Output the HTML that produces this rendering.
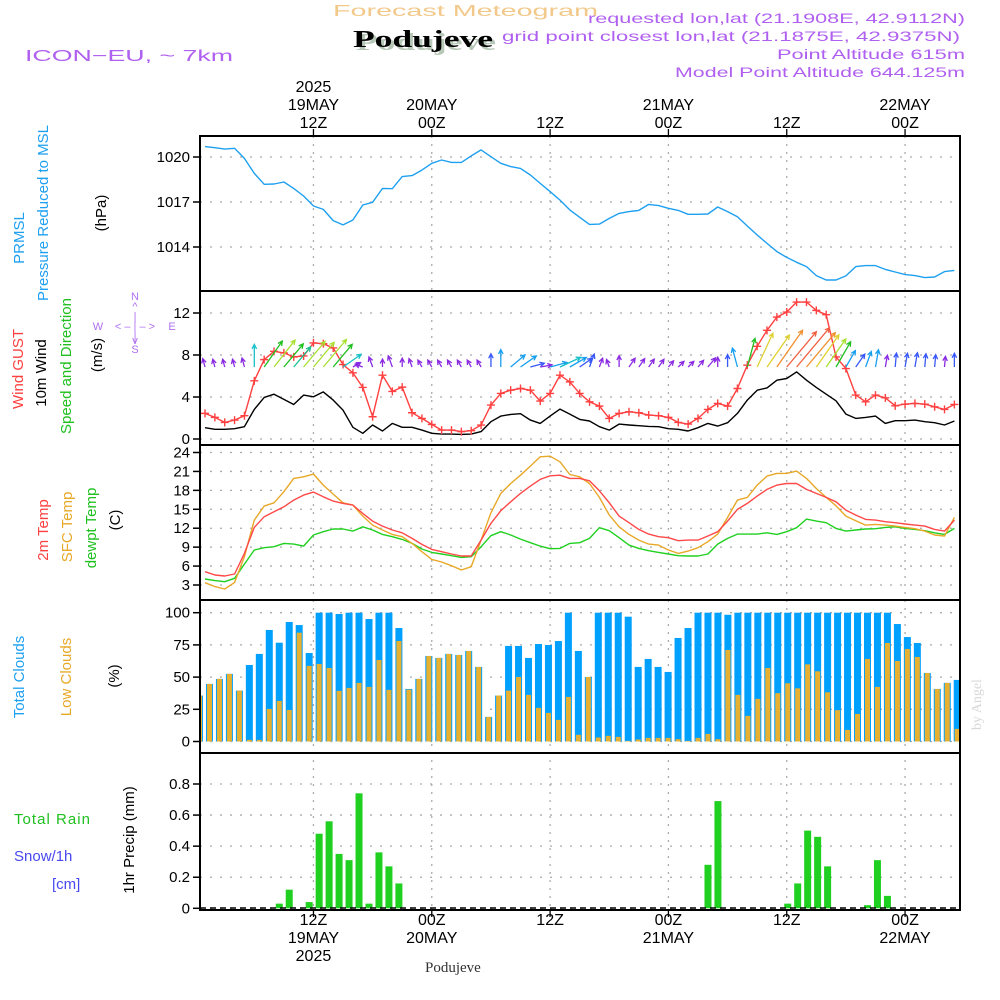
<!DOCTYPE html>
<html><head><meta charset="utf-8"><style>
html,body{margin:0;padding:0;background:#fff;}
svg{display:block;font-family:"Liberation Sans",sans-serif;}
</style></head><body>
<svg id="chart" width="1000" height="1000" viewBox="0 0 1000 1000" xmlns="http://www.w3.org/2000/svg">
<rect x="0" y="0" width="1000" height="1000" fill="#fff"/>
<text x="333" y="16" font-size="16" fill="#f2c98a" textLength="265" lengthAdjust="spacingAndGlyphs">Forecast Meteogram</text>
<text x="356" y="50" font-size="24" font-weight="bold" font-family="Liberation Serif,serif" fill="#b8c8b8" textLength="140" lengthAdjust="spacingAndGlyphs">Podujeve</text>
<text x="353" y="47" font-size="24" font-weight="bold" font-family="Liberation Serif,serif" fill="#000" textLength="140" lengthAdjust="spacingAndGlyphs">Podujeve</text>
<text x="25" y="61" font-size="16" fill="#b060f0" textLength="208" lengthAdjust="spacingAndGlyphs">ICON−EU, ~ 7km</text>
<g fill="#b060f0" font-size="14" text-anchor="end">
<text x="965" y="23" textLength="377" lengthAdjust="spacingAndGlyphs">requested lon,lat (21.1908E, 42.9112N)</text>
<text x="960" y="41" textLength="458" lengthAdjust="spacingAndGlyphs">grid point closest lon,lat (21.1875E, 42.9375N)</text>
<text x="965" y="59" textLength="188" lengthAdjust="spacingAndGlyphs">Point Altitude 615m</text>
<text x="965" y="77" textLength="290" lengthAdjust="spacingAndGlyphs">Model Point Altitude 644.125m</text>
</g>
<g id="grid"></g>
<g id="marks"></g>
<g id="frames"></g>
<g id="labels" font-size="15" fill="#000"></g>
<g font-size="15">
<text transform="translate(24,238) rotate(-90)" fill="#1ea0f0" text-anchor="middle">PRMSL</text>
<text transform="translate(48,213) rotate(-90)" fill="#1ea0f0" text-anchor="middle">Pressure Reduced to MSL</text>
<text transform="translate(106,213) rotate(-90)" fill="#000" text-anchor="middle">(hPa)</text>
<text transform="translate(23,369) rotate(-90)" fill="#ff4040" text-anchor="middle">Wind GUST</text>
<text transform="translate(46,373) rotate(-90)" fill="#000" text-anchor="middle">10m Wind</text>
<text transform="translate(71,366) rotate(-90)" fill="#20c020" text-anchor="middle">Speed and Direction</text>
<text transform="translate(102,355) rotate(-90)" fill="#000" text-anchor="middle">(m/s)</text>
<g fill="#b070f0" font-size="11" text-anchor="middle">
<text x="135" y="300">N</text><text x="135" y="310">^</text><text x="135" y="353">S</text><text x="135" y="344">v</text>
<text x="98" y="330">W</text><text x="172" y="330">E</text>
<text x="135" y="330">&lt; – | – &gt;</text><text x="135" y="320">|</text><text x="135" y="340">|</text>
</g>
<text transform="translate(48,530) rotate(-90)" fill="#ff4040" text-anchor="middle">2m Temp</text>
<text transform="translate(72,527) rotate(-90)" fill="#e8a828" text-anchor="middle">SFC Temp</text>
<text transform="translate(96,528) rotate(-90)" fill="#20c020" text-anchor="middle">dewpt Temp</text>
<text transform="translate(120,520) rotate(-90)" fill="#000" text-anchor="middle">(C)</text>
<text transform="translate(24,677) rotate(-90)" fill="#1ea0f0" text-anchor="middle">Total Clouds</text>
<text transform="translate(71,677) rotate(-90)" fill="#e8a828" text-anchor="middle">Low Clouds</text>
<text transform="translate(119,676) rotate(-90)" fill="#000" text-anchor="middle">(%)</text>
<text transform="translate(134,840) rotate(-90)" fill="#000" text-anchor="middle">1hr Precip (mm)</text>
<text x="14" y="824" fill="#20c020" textLength="76" lengthAdjust="spacing">Total   Rain</text>
<text x="14" y="861" fill="#4848f0">Snow/1h</text>
<text x="52" y="889" fill="#4848f0">[cm]</text>
<text transform="translate(981,730) rotate(-90)" fill="#d8d8d8" font-family="Liberation Serif,serif" font-size="14">by Angel</text>
<text x="425" y="972" fill="#333" font-family="Liberation Serif,serif" font-size="15">Podujeve</text>
</g>
</svg>
<script>
// ---------- data (hourly, 01Z 19 May .. 05Z 22 May) ----------
const pressure = [1020.69,1020.62,1020.53,1020.58,1019.91,1018.91,1018.18,1018.2,1018.33,1017.91,1017.4,1016.73,1016.51,1015.76,1015.47,1015.8,1016.8,1016.98,1017.91,1017.89,1018.69,1018.76,1019.13,1019.58,1019.8,1019.64,1019.64,1020.07,1020.47,1020.02,1019.58,1019.36,1019.24,1018.8,1018.24,1017.69,1017.13,1016.47,1015.98,
1015.51,1015.53,1015.91,1016.24,1016.36,1016.44,1016.84,1016.76,1016.58,1016.44,1016.18,1016.18,1016.2,1016.67,1016.36,1016.02,1015.4,1014.8,1014.24,1013.69,1013.31,1012.98,1012.69,1012.09,1011.8,1011.8,1012.07,1012.69,1012.76,1012.76,1012.51,1012.33,1012.16,1012.09,1011.96,1012.0,1012.36,1012.44];
const windGust = [2.44,2.06,1.58,1.80,2.22,5.54,7.56,8.35,8.20,7.82,7.91,9.15,9.08,8.67,7.09,6.30,4.91,2.12,6.08,4.53,4.94,2.50,1.96,1.39,0.85,0.85,0.70,0.79,1.33,3.23,4.34,4.65,4.81,4.65,3.61,4.34,6.08,5.44,4.34,
3.54,3.13,1.96,2.44,2.59,2.50,2.28,2.22,2.06,1.58,1.42,1.96,2.82,3.39,3.13,4.81,7.03,8.83,10.35,11.61,12.09,13.04,13.04,12.25,11.84,7.82,6.71,4.18,3.54,4.18,3.92,3.16,3.32,3.39,3.32,3.07,2.82,3.29];
const wind10m = [1.08,0.92,0.92,0.98,1.17,2.82,3.96,4.27,3.77,3.29,4.18,4.02,4.49,3.70,2.75,1.11,0.54,1.33,0.76,1.49,1.11,1.11,0.85,0.54,0.47,0.47,0.44,0.47,0.70,1.65,2.18,2.34,2.41,1.80,1.49,2.18,2.85,2.37,1.87,
1.71,1.17,0.85,1.42,1.33,1.27,1.20,1.17,0.98,0.92,0.76,1.08,1.49,1.23,1.55,2.44,3.70,4.65,4.87,5.60,5.76,6.39,5.60,4.91,4.27,3.64,2.37,1.96,2.06,2.18,1.49,1.74,1.74,1.80,1.65,1.55,1.33,1.71];
const windDir = [-15,-15,-15,-15,-15,0,35,38,40,40,40,40,40,40,55,60,-70,-20,0,-20,0,-20,-30,-30,-30,-30,-30,-30,-30,0,0,50,55,75,80,75,65,60,55,
20,20,-20,0,35,35,35,35,40,45,45,40,40,0,0,-15,15,25,35,35,40,40,40,35,35,30,30,35,20,10,10,5,10,10,5,5,5,0];
const temp2m = [5.11,4.58,4.42,4.74,8.01,12.13,13.82,14.61,15.40,16.46,17.25,17.72,16.98,16.30,15.93,15.66,14.35,13.13,12.34,11.71,11.28,10.39,9.44,8.65,8.28,7.91,7.59,7.59,10.12,12.76,14.77,16.19,17.51,18.67,19.73,20.31,20.41,19.89,19.89,
19.52,17.93,16.03,13.92,12.87,11.81,11.07,10.65,10.49,10.02,10.12,10.12,10.76,11.44,13.13,14.98,15.93,17.09,18.15,18.83,19.09,19.09,18.15,17.51,16.88,16.19,14.87,14.08,13.40,13.29,13.03,12.87,12.66,12.50,12.34,11.81,11.55,13.29];
const tempSfc = [3.37,2.74,2.37,3.42,7.49,13.29,15.51,16.03,17.78,19.89,20.15,20.57,18.83,17.41,16.03,15.66,13.92,12.50,11.71,11.02,10.65,9.60,8.28,7.06,6.64,6.06,5.37,5.90,10.12,14.45,17.51,19.09,20.41,21.84,23.32,23.42,22.53,20.52,20.15,
19.09,16.88,14.08,12.23,11.02,10.12,9.49,9.33,8.54,8.01,8.38,8.91,9.86,11.07,13.71,16.46,16.88,18.83,20.26,20.68,20.68,21.05,19.89,18.30,16.88,15.56,13.92,13.18,12.50,12.60,12.50,12.34,12.13,11.92,11.55,10.92,10.76,13.71];
const dewpt = [3.95,3.69,3.53,4.06,6.32,8.54,8.91,9.07,9.60,9.49,9.17,10.92,11.44,11.87,11.87,11.55,12.23,11.71,11.02,10.65,10.23,9.60,8.70,8.17,7.91,7.64,7.38,7.49,9.07,10.81,11.44,10.92,10.28,9.70,9.17,8.75,8.80,9.60,9.70,
10.39,12.08,11.60,10.49,9.33,8.80,8.44,8.17,7.91,7.64,7.59,7.59,7.91,9.49,10.39,11.07,11.07,11.07,11.28,11.02,11.44,12.08,13.45,13.13,12.87,11.97,11.55,11.71,11.87,11.92,12.13,12.23,11.97,11.81,11.60,11.28,11.02,11.97];
// hourly bars (00Z 19 May .. 04Z 22 May)
const totalClouds = [35.7,44.7,48.6,52.5,39.5,59.4,68.0,86.6,76.7,92.8,90.4,68.7,100,100,99,100,100,95.1,100,100,88.1,40.8,48.6,66.4,64.9,68.0,67.2,70.3,57.9,19.1,35.7,74.2,74.2,64.9,75.7,74.9,78.0,100,70.3,
50.1,100,100,100,96.9,57.9,64.1,57.9,54.0,80.4,88.1,100,100,100,98.4,100,100,100,100,100,100,100,100,100,100,100,100,100,100,100,100,91.2,81.1,76.5,53.2,40.8,45.5,47.8];
const lowClouds = [35.7,44.7,48.6,52.5,39.5,1.3,1.3,25.3,31.5,24.5,84.5,58.7,60.2,57.1,39.3,41.6,45.5,42.4,63.3,40.1,78.0,40.3,48.6,66.4,64.9,68.0,67.2,70.3,57.9,19.1,35.7,39.5,50.1,36.2,26.1,22.2,16.8,34.6,5.2,
50.1,3.1,4.4,3.6,0.5,1.6,2.8,2.8,2.8,1.8,0.5,2.8,5.9,1.8,71.1,36.2,19.9,33.1,57.1,37.5,45.2,41.3,59.9,54.5,38.2,24.3,9.0,21.4,64.1,42.4,76.5,62.5,71.8,65.6,53.2,40.8,45.5,9.8];
const precip = [0,0,0,0,0,0,0,0,0.03,0.12,0,0.04,0.48,0.56,0.35,0.31,0.74,0.03,0.36,0.27,0.16,0,0,0,0,0,0,0,0,0,0,0,0,0,0,0,0,0,0,
0,0,0,0,0,0,0,0,0,0,0,0,0.28,0.69,0,0,0,0,0,0,0.03,0.16,0.50,0.46,0.27,0,0,0,0.02,0.31,0.08,0,0,0,0,0,0,0];
const pressTicks = [1020,1017,1014];
const windTicks = [0,4,8,12];
const tempTicks = [3,6,9,12,15,18,21,24];
const cloudTicks = [0,25,50,75,100];
const precipTicks = [0,0.2,0.4,0.6,0.8];
const precipTickLabels = ["0","0.2","0.4","0.6","0.8"];
const timeTickHours = [12,24,36,48,60,72];
const timeTopLabels = [["2025","19MAY","12Z"],["","20MAY","00Z"],["","","12Z"],["","21MAY","00Z"],["","","12Z"],["","22MAY","00Z"]];
const timeBottomLabels = [["12Z","19MAY","2025"],["00Z","20MAY",""],["12Z","",""],["00Z","21MAY",""],["12Z","",""],["00Z","22MAY",""]];

// ---------- axes ----------
const NS="http://www.w3.org/2000/svg";
const L=200,R=960;
const panels=[{t:136,b:291},{t:291,b:445},{t:445,b:600},{t:600,b:753},{t:753,b:910}];
function xLine(i){return 205+i*9.86;}
function xHour(h){return xLine(h-1);}
function xBar(j){return 199.5+j*9.97;}
function lin(d0,d1,r0,r1){return v=>r0+(v-d0)*(r1-r0)/(d1-d0);}
const yP=lin(1020,1014,157,247);
const yW=lin(0,12,439,313);
const yT=lin(3,24,585,452.5);
const yC=lin(0,100,741.5,612.7);
const yR=lin(0,0.8,908.3,784);
function mk(tag,attrs,parent){const e=document.createElementNS(NS,tag);for(const k in attrs)e.setAttribute(k,attrs[k]);parent.appendChild(e);return e;}
const grid=document.getElementById('grid'),marks=document.getElementById('marks'),frames=document.getElementById('frames'),labels=document.getElementById('labels');

function hgrid(vals,fy){vals.forEach(v=>{const y=fy(v);const g=mk('line',{x1:L,x2:R,y1:y,y2:y,stroke:'#aaa','stroke-width':1.3,'stroke-dasharray':'2,8'},grid);

});}
hgrid(pressTicks,yP);hgrid(windTicks,yW);hgrid(tempTicks,yT);hgrid(cloudTicks,yC);hgrid(precipTicks,yR);
timeTickHours.forEach(h=>{const x=xHour(h);const g=mk('line',{x1:x,x2:x,y1:136,y2:910,stroke:'#aaa','stroke-width':1.3,'stroke-dasharray':'2,6'},grid);

});

function yticks(vals,fy,txt,name){vals.forEach((v,k)=>{const y=fy(v);const t=mk('text',{x:190,y:y+5,'text-anchor':'end'},labels);t.textContent=txt?txt[k]:String(v);


mk('line',{x1:193,x2:200,y1:y,y2:y,stroke:'#000','stroke-width':1.5},labels);});}
yticks(pressTicks,yP,null,'pressure-tick');yticks(windTicks,yW,null,'wind-tick');yticks(tempTicks,yT,null,'temp-tick');yticks(cloudTicks,yC,null,'cloud-tick');yticks(precipTicks,yR,precipTickLabels,'precip-tick');

timeTickHours.forEach((h,k)=>{const x=xHour(h);
 mk('line',{x1:x,x2:x,y1:129,y2:136,stroke:'#000','stroke-width':1.3},labels);
 mk('line',{x1:x,x2:x,y1:910,y2:917,stroke:'#000','stroke-width':1.3},labels);
 timeTopLabels[k].forEach((s,r)=>{if(!s)return;const t=mk('text',{x:x,y:92+r*18,'text-anchor':'middle','font-size':16},labels);t.textContent=s;
 
 });
 timeBottomLabels[k].forEach((s,r)=>{if(!s)return;const t=mk('text',{x:x,y:925+r*18,'text-anchor':'middle','font-size':16},labels);t.textContent=s;
 
 });
});

function line(vals,fy,color,name,w){const d=vals.map((v,i)=>(i?'L':'M')+xLine(i).toFixed(1)+','+fy(v).toFixed(1)).join('');
 const p=mk('path',{d:d,fill:'none',stroke:color,'stroke-width':w||1.4,'stroke-linejoin':'round'},marks);
 
 }
line(pressure,yP,'#1ea0f0','pressure-line');
line(wind10m,yW,'#000','wind-10m-line');
line(windGust,yW,'#ff4040','wind-gust-line');
windGust.forEach((v,i)=>{const x=xLine(i),y=yW(v);const g=mk('path',{d:`M${x-4},${y}H${x+4}M${x},${y-4}V${y+4}`,stroke:'#ff4040','stroke-width':1.4},marks);
 
 });
function spdColor(s){if(s<1.5)return'#8a2be2';if(s<2)return'#3858f8';if(s<2.5)return'#18a0f0';if(s<3)return'#18c0c8';if(s<3.5)return'#18c090';if(s<4)return'#20c020';if(s<4.5)return'#a8e030';if(s<5)return'#e0d030';if(s<5.7)return'#f09030';return'#f06040';}
wind10m.forEach((s,i)=>{const x=xLine(i),y=367;const len=Math.max(8,8*s);const a=windDir[i]*Math.PI/180;
 const x2=x+len*Math.sin(a),y2=y-len*Math.cos(a);const hl=5;
 const a1=a+Math.PI*0.85,a2=a-Math.PI*0.85;
 const d=`M${x},${y}L${x2},${y2}M${x2+hl*Math.sin(a1)},${y2-hl*Math.cos(a1)}L${x2},${y2}L${x2+hl*Math.sin(a2)},${y2-hl*Math.cos(a2)}`;
 const g=mk('path',{d:d,fill:'none',stroke:spdColor(s),'stroke-width':1.3},marks);
 
 });
line(dewpt,yT,'#20d020','dewpoint-line');
line(tempSfc,yT,'#e8a828','sfc-temp-line');
line(temp2m,yT,'#ff4848','temp-2m-line');
totalClouds.forEach((v,j)=>{const x=xBar(j);const y=yC(v);const b=mk('rect',{x:x-3.5,y:y,width:7,height:yC(0)-y,fill:'#00a0ff'},marks);
 
 });
lowClouds.forEach((v,j)=>{const x=xBar(j);const y=yC(v);const b=mk('rect',{x:x-2.5,y:y,width:5,height:yC(0)-y,fill:'#e8b030'},marks);
 
 });
precip.forEach((v,j)=>{if(v<=0)return;const x=xBar(j);const y=yR(v);const b=mk('rect',{x:x-3.5,y:y,width:7,height:yR(0)-y,fill:'#20d020'},marks);
 
 });
mk('line',{x1:L,x2:R,y1:908,y2:908,stroke:'#000','stroke-width':1.5,'stroke-dasharray':'6,4'},marks);

const clip=mk('clipPath',{id:'pc'},document.getElementById('chart'));mk('rect',{x:L,y:136,width:R-L,height:774},clip);
marks.setAttribute('clip-path','url(#pc)');
panels.forEach(p=>{const r=mk('rect',{x:L,y:p.t,width:R-L,height:p.b-p.t,fill:'none',stroke:'#000','stroke-width':2},frames);
 
 });
</script>
</body></html>
